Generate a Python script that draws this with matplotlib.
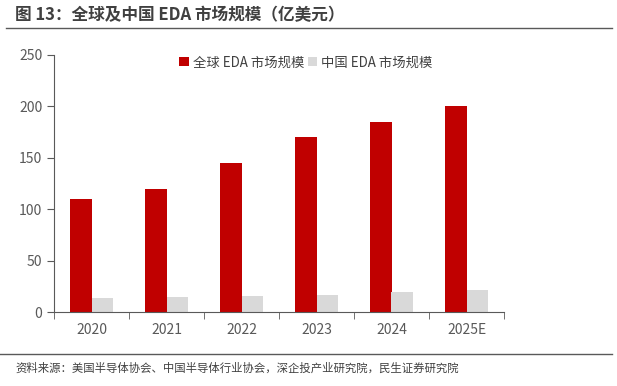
import numpy as np
import matplotlib
matplotlib.use('Agg')
import matplotlib.pyplot as plt

plt.rcParams['font.family'] = ['Noto Sans CJK SC', 'DejaVu Sans']

years = ['2020', '2021', '2022', '2023', '2024', '2025E']
global_eda = [110, 120, 145, 170, 185, 200]
china_eda = [14, 15, 16, 17, 19, 21]

fig = plt.figure(figsize=(6.17, 3.86), dpi=100)
ax = fig.add_axes([54 / 617, 74 / 386, 450 / 617, 257 / 386])

x = np.arange(len(years))
w = 0.29
ax.bar(x - 0.145, global_eda, w, color='#c00000', label='全球 EDA 市场规模')
ax.bar(x + 0.145, china_eda, w, color='#d9d9d9', label='中国 EDA 市场规模')

ax.set_xlim(-0.5, len(years) - 0.5)
ax.set_ylim(0, 250)
ax.set_yticks(range(0, 251, 50))
ax.set_xticks(x)
ax.set_xticklabels(years)
ax.set_xticks(np.arange(-0.5, len(years)), minor=True)
ax.tick_params(axis='x', which='major', length=0, pad=8, labelsize=10, colors='#595959')
ax.tick_params(axis='x', which='minor', length=5, color='#595959', direction='out')
ax.tick_params(axis='y', length=5, color='#595959', labelsize=10, labelcolor='#595959')
for s in ['top', 'right']:
    ax.spines[s].set_visible(False)
for s in ['left', 'bottom']:
    ax.spines[s].set_color('#595959')

ax.legend(loc='upper center', bbox_to_anchor=(0.56, 1.045), ncol=2, frameon=False,
          fontsize=9.6, handlelength=0.7, handleheight=0.7, handletextpad=0.3,
          columnspacing=0.3, labelcolor='#404040')

fig.text(15 / 617, 1 - 15 / 386, '图 13：全球及中国 EDA 市场规模（亿美元）', fontsize=12,
         fontweight='bold', color='#404040', va='center', ha='left')
fig.add_artist(plt.Line2D([6 / 617, 612 / 617], [1 - 28 / 386] * 2, color='#595959', lw=1))
fig.add_artist(plt.Line2D([0, 612 / 617], [1 - 354 / 386] * 2, color='#595959', lw=1))
fig.text(15 / 617, 1 - 368 / 386, '资料来源：美国半导体协会、中国半导体行业协会，深企投产业研究院，民生证券研究院',
         fontsize=8.2, color='#404040', va='center', ha='left')

plt.savefig('out.png', dpi=100)
